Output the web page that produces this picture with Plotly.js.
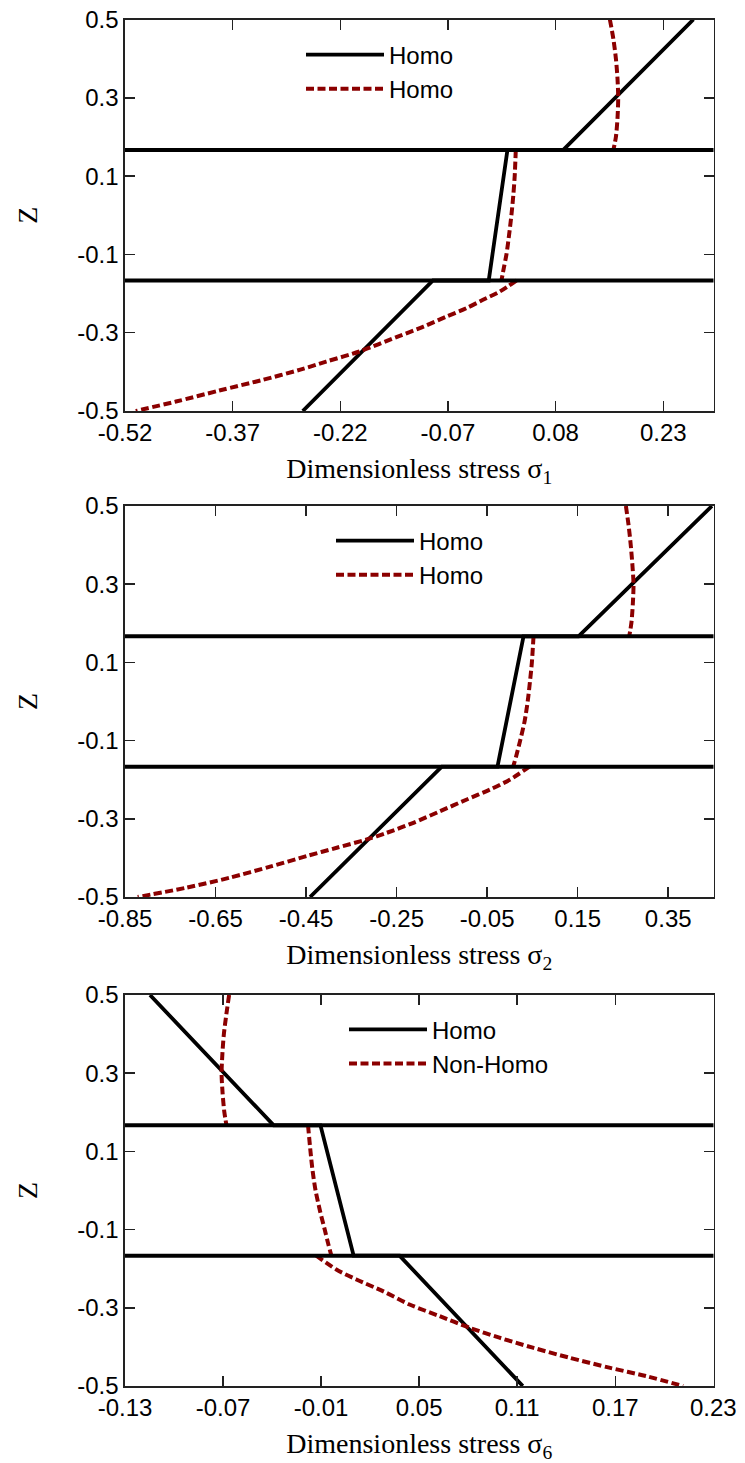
<!DOCTYPE html>
<html><head><meta charset="utf-8">
<script src="https://cdn.plot.ly/plotly-3.0.1.min.js"></script>
<style>html,body{margin:0;padding:0;background:#fff}</style>
</head><body><div id="chart" style="width:745px;height:1463px"></div>
<script>
// ---- data ----
const layerInterfaces = [1/6, -1/6];
const zTicks = [0.5, 0.3, 0.1, -0.1, -0.3, -0.5];
const zTickText = ['0.5', '0.3', '0.1', '-0.1', '-0.3', '-0.5'];

const s1Ticks = [-0.52, -0.37, -0.22, -0.07, 0.08, 0.23];
const s1TickText = ['-0.52', '-0.37', '-0.22', '-0.07', '0.08', '0.23'];
const s2Ticks = [-0.85, -0.65, -0.45, -0.25, -0.05, 0.15, 0.35];
const s2TickText = ['-0.85', '-0.65', '-0.45', '-0.25', '-0.05', '0.15', '0.35'];
const s6Ticks = [-0.13, -0.07, -0.01, 0.05, 0.11, 0.17, 0.23];
const s6TickText = ['-0.13', '-0.07', '-0.01', '0.05', '0.11', '0.17', '0.23'];

// Homogeneous (solid black): piecewise linear through the three layers
const zHomo = [0.5, 1/6, 1/6, -1/6, -1/6, -0.5];
const s1Homo = [0.272, 0.0904, 0.0129, -0.0132, -0.0909, -0.2723];
const s2Homo = [0.4465, 0.1518, 0.0303, -0.0272, -0.1502, -0.4412];
const s6Homo = [-0.1147, -0.039, -0.0104, 0.0099, 0.038, 0.1134];

// Non-homogeneous (dashed dark red): one segment per layer, null between layers
const z1Non = [0.5, 0.45, 0.4, 0.35, 0.3, 0.25, 0.2, 1/6, null,
  1/6, 0.1, 0.05, 0, -0.05, -0.1, -0.133, -1/6, null,
  -1/6, -0.195, -0.216, -0.2375, -0.259, -0.2844, -0.31, -0.348, -0.3738, -0.395, -0.4205, -0.4478, -0.4759, -0.5];
const s1Non = [0.1556, 0.1605, 0.1640, 0.1662, 0.1672, 0.1663, 0.1640, 0.1605, null,
  0.0245, 0.0230, 0.0210, 0.0184, 0.0152, 0.0115, 0.0080, 0.0045, null,
  0.0254, 0.0021, -0.0212, -0.0444, -0.0722, -0.1040, -0.1400, -0.1932, -0.2397, -0.2769, -0.3281, -0.3886, -0.449, -0.505];

const z2Non = [0.5, 0.45, 0.4, 0.35, 0.3, 0.25, 0.2, 1/6, null,
  1/6, 0.1, 0.05, 0, -0.05, -0.1, -0.14, -1/6, null,
  -1/6, -0.1995, -0.225, -0.2506, -0.2805, -0.3102, -0.3358, -0.3527, -0.374, -0.3953, -0.4224, -0.4505, -0.476, -0.5];
const s2Non = [0.2565, 0.2625, 0.2672, 0.2708, 0.2733, 0.2718, 0.2685, 0.2638, null,
  0.0524, 0.0488, 0.0445, 0.0395, 0.0328, 0.0229, 0.0141, 0.0075, null,
  0.0435, 0.0008, -0.0434, -0.0949, -0.1539, -0.2129, -0.2717, -0.3159, -0.3822, -0.4485, -0.5296, -0.618, -0.7137, -0.822];

const z6Non = [0.5, 0.45, 0.4, 0.35, 0.3, 0.25, 0.2, 1/6, null,
  1/6, 0.1, 0.05, 0, -0.05, -0.1, -0.134, -1/6, null,
  -1/6, -0.2021, -0.2276, -0.2574, -0.2915, -0.3213, -0.351, -0.3765, -0.402, -0.4276, -0.4531, -0.4744, -0.5];
const s6Non = [-0.0663, -0.068, -0.0695, -0.0704, -0.0709, -0.0703, -0.0692, -0.0679, null,
  -0.018, -0.0165, -0.0152, -0.0134, -0.0108, -0.0078, -0.0058, -0.0037, null,
  -0.013, -0.0007, 0.0116, 0.0278, 0.0441, 0.0625, 0.0808, 0.0991, 0.1195, 0.1419, 0.1663, 0.1887, 0.2115];

const legendNames = [['Homo', 'Homo'], ['Homo', 'Homo'], ['Homo', 'Non-Homo']];

// ---- styling ----
const RED = '#8b0000';
const SANS = 'Liberation Sans, Arial, Helvetica, sans-serif';
const SERIF = 'Liberation Serif, Times New Roman, serif';

const panels = [
  {xs: 'x', ys: 'y', leg: 'legend', homo: s1Homo, zN: z1Non, non: s1Non},
  {xs: 'x2', ys: 'y2', leg: 'legend2', homo: s2Homo, zN: z2Non, non: s2Non},
  {xs: 'x3', ys: 'y3', leg: 'legend3', homo: s6Homo, zN: z6Non, non: s6Non}
];

const traces = [];
panels.forEach((p, i) => {
  traces.push({x: p.homo, y: zHomo, xaxis: p.xs, yaxis: p.ys, mode: 'lines',
    name: legendNames[i][0], legend: p.leg,
    line: {color: '#000', width: 3.8}, hoverinfo: 'skip'});
  traces.push({x: p.non, y: p.zN, xaxis: p.xs, yaxis: p.ys, mode: 'lines',
    name: legendNames[i][1], legend: p.leg, connectgaps: false,
    line: {color: RED, width: 4, dash: '8px,3.5px', shape: 'spline', smoothing: 0.8}, hoverinfo: 'skip'});
});

const W = 745, H = 1463;
const xDom = [125 / W, 713.5 / W];
const yDoms = [[1 - 411 / H, 1 - 19.5 / H], [1 - 897 / H, 1 - 506 / H], [1 - 1386 / H, 1 - 995 / H]];

function xAxis(ticks, text, range, sub, anchor) {
  return {
    domain: xDom, anchor: anchor, range: range, autorange: false,
    tickmode: 'array', tickvals: ticks, ticktext: text,
    ticks: 'inside', ticklen: 10, tickwidth: 1.5, tickcolor: '#222',
    showline: true, linecolor: '#222', linewidth: 1.6, mirror: 'ticks',
    showgrid: false, zeroline: false,
    tickfont: {family: SANS, size: 24, color: '#000'},
    title: {text: 'Dimensionless stress σ<sub>' + sub + '</sub>', font: {family: SERIF, size: 28, color: '#000'}, standoff: 13}
  };
}
function yAxis(dom, anchor) {
  return {
    domain: dom, anchor: anchor, range: [-0.5, 0.5], autorange: false,
    tickmode: 'array', tickvals: zTicks, ticktext: zTickText,
    ticks: 'inside', ticklen: 10, tickwidth: 1.5, tickcolor: '#222',
    showline: true, linecolor: '#222', linewidth: 1.6, mirror: 'ticks',
    showgrid: false, zeroline: false,
    tickfont: {family: SANS, size: 24, color: '#000'},
    title: {text: 'Z', font: {family: SERIF, size: 28, color: '#000'}, standoff: 31}
  };
}

const shapes = [];
['y', 'y2', 'y3'].forEach((ya, i) => {
  const xa = ['x', 'x2', 'x3'][i];
  layerInterfaces.forEach(z => {
    shapes.push({type: 'line', xref: xa + ' domain', x0: 0, x1: 1, yref: ya, y0: z, y1: z,
      line: {color: '#000', width: 4}, layer: 'above'});
  });
});

function legendAt(x, yTop) {
  return {x: x / W, y: 1 - yTop / H, xanchor: 'left', yanchor: 'top',
    bgcolor: 'rgba(0,0,0,0)', borderwidth: 0, itemwidth: 78,
    font: {family: SANS, size: 24, color: '#000'}, tracegroupgap: 0};
}

const layout = {
  width: W, height: H,
  margin: {l: 0, r: 0, t: 0, b: 0},
  paper_bgcolor: '#fff', plot_bgcolor: '#fff',
  showlegend: true,
  xaxis: xAxis(s1Ticks, s1TickText, [-0.52, 0.30], '1', 'y'),
  yaxis: yAxis(yDoms[0], 'x'),
  xaxis2: xAxis(s2Ticks, s2TickText, [-0.85, 0.45], '2', 'y2'),
  yaxis2: yAxis(yDoms[1], 'x2'),
  xaxis3: xAxis(s6Ticks, s6TickText, [-0.13, 0.2301], '6', 'y3'),
  yaxis3: yAxis(yDoms[2], 'x3'),
  legend: legendAt(301, 32.5),
  legend2: legendAt(331, 518.5),
  legend3: legendAt(344, 1007.3),
  shapes: shapes
};

Plotly.newPlot('chart', traces, layout, {staticPlot: true, displayModeBar: false});
</script>
</body></html>
